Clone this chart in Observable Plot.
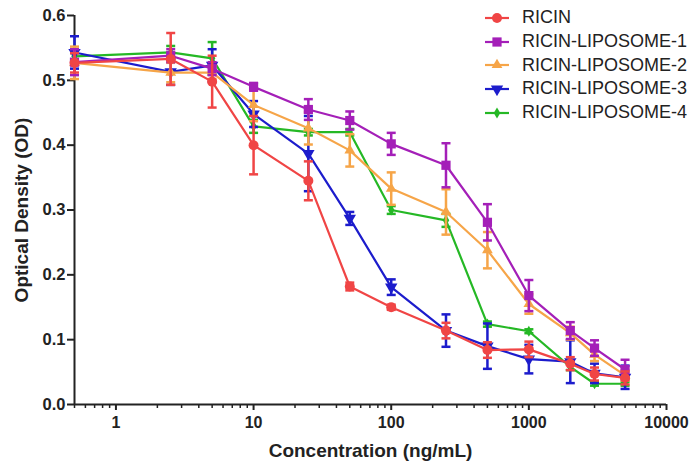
<!DOCTYPE html>
<html>
<head>
<meta charset="utf-8">
<script src="https://cdn.jsdelivr.net/npm/d3@7"></script>
<script src="https://cdn.jsdelivr.net/npm/@observablehq/plot@0.6"></script>
<style>
  html, body { margin: 0; padding: 0; background: #fff; }
  #wrap { position: relative; width: 692px; height: 461px; font-family: "Liberation Sans", Arial, sans-serif; overflow: hidden; }
  #legend { position: absolute; left: 484px; top: 6px; font-size: 18px; color: #222; white-space: nowrap; }
  #legend .row { display: flex; align-items: center; height: 23.7px; }
  #legend svg { margin-right: 12px; flex: none; }
</style>
</head>
<body>
<div id="wrap"><div id="legend"></div></div>
<script>
const conc = [0.5, 2.5, 5, 10, 25, 50, 100, 250, 500, 1000, 2000, 3000, 5000];
const seriesNames = ["RICIN", "RICIN-LIPOSOME-1", "RICIN-LIPOSOME-2", "RICIN-LIPOSOME-3", "RICIN-LIPOSOME-4"];
const seriesColors = ["#f04545", "#a41fb8", "#f6a548", "#1c1ccc", "#25b825"];
const ricin     = [0.527, 0.533, 0.498, 0.400, 0.345, 0.182, 0.150, 0.114, 0.084, 0.085, 0.063, 0.047, 0.041];
const ricinErr  = [0.015, 0.040, 0.040, 0.045, 0.030, 0.006, 0.004, 0.012, 0.012, 0.012, 0.010, 0.010, 0.010];
const lipo1     = [0.528, 0.538, 0.518, 0.490, 0.455, 0.438, 0.402, 0.369, 0.281, 0.168, 0.114, 0.087, 0.054];
const lipo1Err  = [0.020, 0.010, 0.010, 0.006, 0.016, 0.014, 0.017, 0.034, 0.028, 0.024, 0.013, 0.012, 0.015];
const lipo2     = [0.527, 0.512, 0.512, 0.462, 0.426, 0.392, 0.333, 0.297, 0.238, 0.155, 0.110, 0.077, 0.045];
const lipo2Err  = [0.025, 0.015, 0.010, 0.025, 0.025, 0.025, 0.025, 0.035, 0.028, 0.015, 0.010, 0.010, 0.008];
const lipo3     = [0.543, 0.513, 0.523, 0.448, 0.387, 0.287, 0.181, 0.114, 0.090, 0.070, 0.066, 0.048, 0.042];
const lipo3Err  = [0.025, 0.020, 0.025, 0.020, 0.058, 0.010, 0.012, 0.025, 0.035, 0.022, 0.033, 0.015, 0.018];
const lipo4     = [0.537, 0.543, 0.534, 0.429, 0.420, 0.420, 0.300, 0.284, 0.124, 0.113, 0.058, 0.032, 0.032];
const lipo4Err  = [0.005, 0.010, 0.025, 0.010, 0.005, 0.005, 0.006, 0.010, 0.004, 0.003, 0.005, 0.003, 0.003];
const yTicks = [0, 0.1, 0.2, 0.3, 0.4, 0.5, 0.6];
const xMajorTicks = [1, 10, 100, 1000, 10000];

const values = [ricin, lipo1, lipo2, lipo3, lipo4];
const errs = [ricinErr, lipo1Err, lipo2Err, lipo3Err, lipo4Err];

// symbols
const triangleDown = {
  draw(ctx, size) {
    const y = -Math.sqrt(size / (Math.sqrt(3) * 3));
    ctx.moveTo(0, -2 * y);
    ctx.lineTo(-Math.sqrt(3) * y, y);
    ctx.lineTo(Math.sqrt(3) * y, y);
    ctx.closePath();
  }
};
const cap = {
  draw(ctx, size) {
    const w = Math.sqrt(size / Math.PI);
    ctx.moveTo(-w, 0);
    ctx.lineTo(w, 0);
  }
};
const symbols = [d3.symbolCircle, d3.symbolSquare, d3.symbolTriangle, triangleDown, d3.symbolDiamond];
const radii = [5, 5.2, 4, 4.6, 3.4];

function table(i) {
  return conc.map((c, j) => ({ x: c, y: values[i][j], lo: values[i][j] - errs[i][j], hi: values[i][j] + errs[i][j] }));
}

// minor ticks
const xMinorTicks = [];
for (let e = -1; e < 4; e++) for (let k = 2; k <= 9; k++) { const v = k * Math.pow(10, e); if (v >= 0.5 && v <= 10000) xMinorTicks.push(v); }

const drawOrder = [4, 3, 2, 1, 0];
const marks = [];
for (const i of drawOrder) {
  const d = table(i);
  const col = seriesColors[i];
  marks.push(Plot.ruleX(d, { x: "x", y1: "lo", y2: "hi", stroke: col, strokeWidth: 2.5 }));
  marks.push(Plot.dot(d, { x: "x", y: "hi", symbol: cap, r: 4.5, stroke: col, strokeWidth: 2.5, fill: "none" }));
  marks.push(Plot.dot(d, { x: "x", y: "lo", symbol: cap, r: 4.5, stroke: col, strokeWidth: 2.5, fill: "none" }));
  marks.push(Plot.line(d, { x: "x", y: "y", stroke: col, strokeWidth: 2.2 }));
  marks.push(Plot.dot(d, { x: "x", y: "y", symbol: symbols[i], r: radii[i], fill: col, stroke: "none" }));
}

const chart = Plot.plot({
  width: 692,
  height: 461,
  marginLeft: 74,
  marginRight: 26,
  marginTop: 15,
  marginBottom: 57,
  style: { fontFamily: "'Liberation Sans', Arial, sans-serif", fontSize: "16px", fontWeight: "bold", color: "#222", background: "#fff", overflow: "visible" },
  x: { type: "log", domain: [0.5, 10000] },
  y: { domain: [0, 0.6] },
  marks: [
    Plot.axisX({ ticks: xMinorTicks, tickSize: 4, tickFormat: () => "", label: null, strokeWidth: 1.5 }),
    Plot.axisX({ ticks: xMajorTicks, tickSize: 6, tickPadding: 6, tickFormat: d3.format("d"), strokeWidth: 2, fontSize: 16,
      label: null }),
    Plot.axisX({ ticks: [], label: "Concentration (ng/mL)", labelAnchor: "center", labelOffset: 52, labelArrow: "none", fontSize: 19 }),
    Plot.axisY({ ticks: yTicks, tickSize: 7, tickPadding: 2, tickFormat: d3.format(".1f"), strokeWidth: 2, fontSize: 16.5,
      label: null }),
    Plot.axisY({ ticks: [], label: "Optical Density (OD)", labelAnchor: "center", labelOffset: 60, labelArrow: "none", fontSize: 19 }),
    Plot.ruleX([0.5], { y1: 0, y2: 0.6, stroke: "#222", strokeWidth: 2 }),
    Plot.ruleY([0], { x1: 0.5, x2: 10000, stroke: "#222", strokeWidth: 2 }),
    ...marks
  ]
});
document.getElementById("wrap").prepend(chart);

// legend
const legend = d3.select("#legend");
seriesNames.forEach((name, i) => {
  const row = legend.append("div").attr("class", "row");
  const s = row.append("svg").attr("width", 26).attr("height", 14);
  s.append("line").attr("x1", 1).attr("x2", 25).attr("y1", 7).attr("y2", 7).attr("stroke", seriesColors[i]).attr("stroke-width", 2.2);
  s.append("path").attr("transform", "translate(13,7)")
    .attr("d", d3.symbol(symbols[i], radii[i] * radii[i] * Math.PI)())
    .attr("fill", seriesColors[i]);
  row.append("span").text(name);
});
</script>
</body>
</html>
